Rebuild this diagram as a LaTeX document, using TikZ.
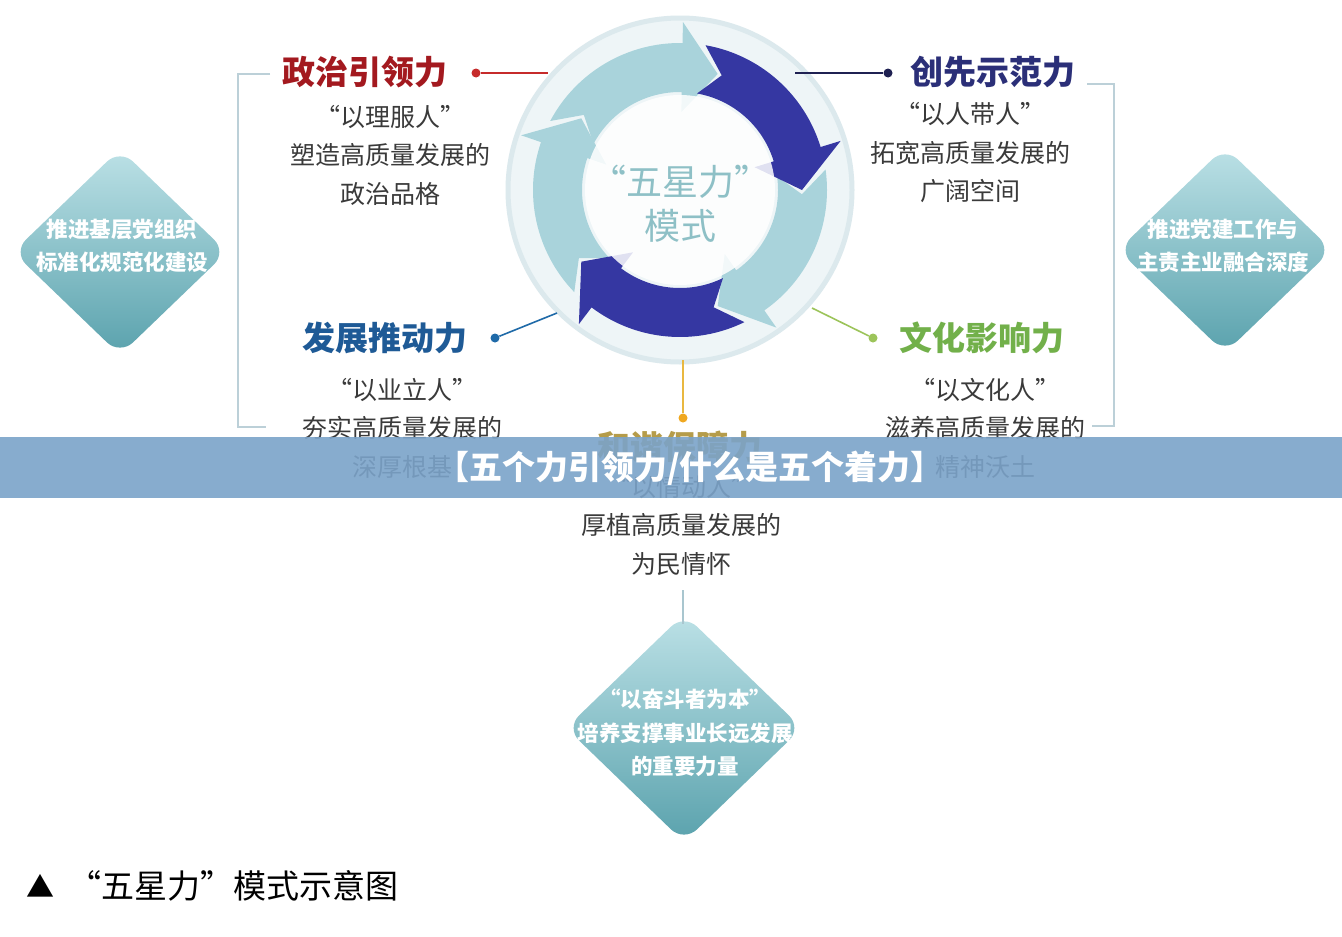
\documentclass[tikz,border=0pt]{standalone}
\usepackage{fontspec}
\newfontfamily\cjk{Noto Sans CJK SC}
\usetikzlibrary{shapes.geometric,calc}
\definecolor{bodygray}{HTML}{3A3A3A}
\definecolor{brk}{HTML}{BCD0D8}
\definecolor{ringlight}{HTML}{A9D3DB}
\definecolor{ringdark}{HTML}{3537A2}
\definecolor{ringbg}{HTML}{EEF5F7}
\definecolor{ringedge}{HTML}{DCE9ED}
\definecolor{ctext}{HTML}{8EC0C6}
\definecolor{redline}{HTML}{C62B2B}
\definecolor{redtitle}{HTML}{A3191F}
\definecolor{navyline}{HTML}{1F2152}
\definecolor{navytitle}{HTML}{2B2F78}
\definecolor{blueline}{HTML}{1F6AA8}
\definecolor{bluetitle}{HTML}{1E5A96}
\definecolor{greenline}{HTML}{9CC45A}
\definecolor{greentitle}{HTML}{72B04A}
\definecolor{goldline}{HTML}{E9B840}
\definecolor{golddot}{HTML}{F0A820}
\definecolor{goldtitle}{HTML}{B59C4A}
\definecolor{banner}{HTML}{7BA3C9}
\definecolor{dtop}{HTML}{BCE1E6}
\definecolor{dbot}{HTML}{5AA2AD}
\definecolor{stem}{HTML}{A9C6CF}
\newcommand{\ringarrow}[2]{%
  \fill[#2] ({#1}:147) arc[start angle={#1}, end angle={#1-63}, radius=147]
    -- ({#1-63}:168) -- ({#1-80}:122) -- ({#1-63}:78) -- ({#1-63}:98)
    arc[start angle={#1-63}, end angle={#1}, radius=98] -- ({#1-10}:122) -- cycle;}
\begin{document}
\begin{tikzpicture}[x=1pt,y=-1pt,
  title/.style={font=\cjk\bfseries\fontsize{33}{33}\selectfont, inner sep=0},
  body/.style={font=\cjk\fontsize{25}{38.5}\selectfont, text=bodygray, align=center, inner sep=0},
  dtext/.style={font=\cjk\bfseries\fontsize{21.5}{32.5}\selectfont, text=white, align=center, inner sep=0},
  dotn/.style={circle, inner sep=0, minimum size=9pt},
  diam/.style={diamond, inner sep=0, rounded corners=18pt, top color=dtop, bottom color=dbot, draw=none},
  conn/.style={line width=1.6pt},
  bracket/.style={draw=brk, line width=1.6pt}]
\useasboundingbox (0,0) rectangle (1342,937);
\fill[white] (0,0) rectangle (1342,937);

% brackets
\draw[bracket] (270,74) -- (238,74) -- (238,427) -- (266,427);
\draw[bracket] (1087,84) -- (1114,84) -- (1114,426) -- (1092,426);

% central ring
\begin{scope}[shift={(680,190)}, y={(0pt,1pt)}]
  \fill[ringbg] (0:0) circle[radius=172];
  \draw[ringedge, line width=5pt] (0:0) circle[radius=172];
  \ringarrow{152}{ringlight}
  \ringarrow{8}{ringlight}
  \ringarrow{-136}{ringlight}
  \ringarrow{80}{ringdark}
  \ringarrow{-64}{ringdark}
  \fill[white, opacity=0.85] (0:0) circle[radius=95];
\end{scope}
\node[font=\cjk\fontsize{36}{44}\selectfont, text=ctext, align=center, inner sep=0] (ctr) at (680,204) {“五星力”\\模式};

% titles
\node[title, text=redtitle] (t1) at (365,72) {政治引领力};
\node[title, text=navytitle] (t2) at (993,72) {创先示范力};
\node[title, text=bluetitle] (t3) at (385,338) {发展推动力};
\node[title, text=greentitle] (t4) at (982,338) {文化影响力};
\node[title, text=goldtitle] (t5) at (680,447) {和谐保障力};

% connectors
\node[dotn, fill=redline] (d1) at (476,73) {};
\coordinate (c1) at (548,73);
\draw[conn, redline] (d1) -- (c1);
\node[dotn, fill=navyline] (d2) at (888,73) {};
\coordinate (c2) at (795,73);
\draw[conn, navyline] (c2) -- (d2);
\node[dotn, fill=blueline] (d3) at (495,338) {};
\coordinate (c3) at (557,313);
\draw[conn, blueline] (d3) -- (c3);
\node[dotn, fill=greenline] (d4) at (873,338) {};
\coordinate (c4) at (812,308);
\draw[conn, greenline] (c4) -- (d4);
\node[dotn, fill=golddot] (d5) at (683,418) {};
\coordinate (c5) at (683,360);
\draw[conn, goldline] (c5) -- (d5);

% body texts
\node[body] (b1) at (390,155) {“以理服人”\\塑造高质量发展的\\政治品格};
\node[body] (b2) at (970,153) {“以人带人”\\拓宽高质量发展的\\广阔空间};
\node[body] (b3) at (402,428) {“以业立人”\\夯实高质量发展的\\深厚根基};
\node[body] (b4) at (985,428) {“以文化人”\\滋养高质量发展的\\精神沃土};
\node[body] (b5) at (681,525) {“以情动人”\\厚植高质量发展的\\为民情怀};

% diamonds
\node[diam, minimum width=214pt, minimum height=206pt] (ld) at (120,252) {};
\node[dtext] (ldt) at (122,246) {推进基层党组织\\标准化规范化建设};
\node[diam, minimum width=214pt, minimum height=206pt] (rd) at (1225,250) {};
\node[dtext] (rdt) at (1223,246) {推进党建工作与\\主责主业融合深度};
\node[diam, minimum width=236pt, minimum height=228pt] (bd) at (684,728) {};
\node[dtext, font=\cjk\bfseries\fontsize{21.5}{33.5}\selectfont] (bdt) at (685,733) {“以奋斗者为本”\\培养支撑事业长远发展\\的重要力量};
\coordinate (s1) at (683,590);
\coordinate (s2) at (683,624);
\draw[stem, line width=1.6pt] (s1) -- (s2);

% banner
\node[fill=banner, fill opacity=0.9, minimum width=1342pt, minimum height=61pt, inner sep=0] (bn) at (671,467.5) {};
\node[font=\cjk\bfseries\fontsize{33}{33}\selectfont, text=white, inner sep=0] (bt) at (690,468) {【五个力引领力/什么是五个着力】};

% caption
\node[font=\cjk\fontsize{28}{28}\selectfont, inner sep=0] (tri) at (40,886) {▲};
\node[font=\cjk\fontsize{33}{33}\selectfont, inner sep=0, anchor=west] (cap) at (68,886) {“五星力”模式示意图};
\end{tikzpicture}
\end{document}
